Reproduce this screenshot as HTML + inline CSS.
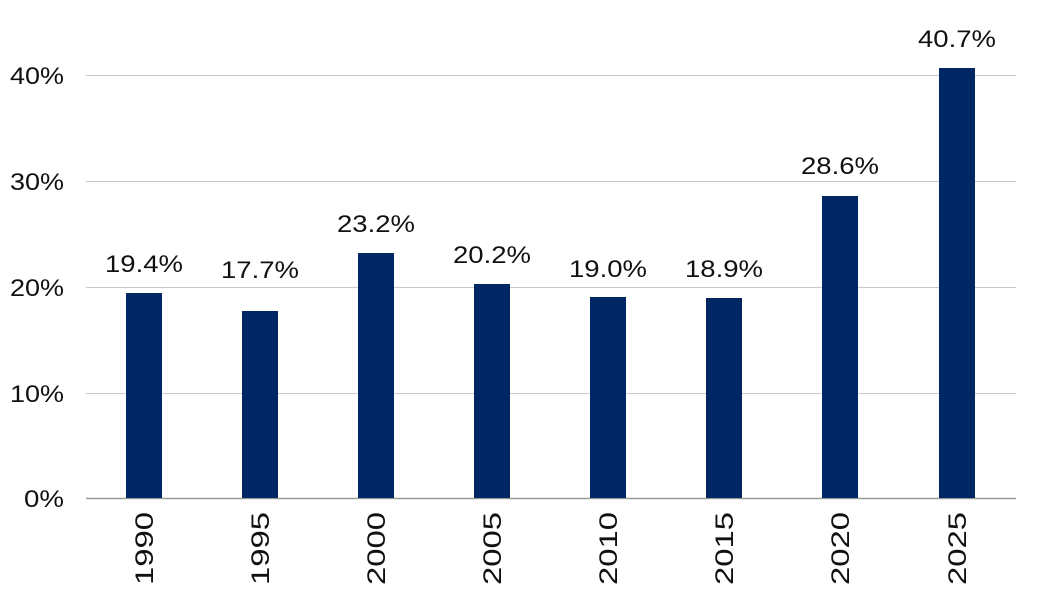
<!DOCTYPE html>
<html><head><style>
body{margin:0;background:#fff;}
svg text{font-family:"Liberation Sans",sans-serif;fill:#111;}
</style></head><body>
<svg width="1040" height="602" xmlns="http://www.w3.org/2000/svg">
<g stroke="#c8c8c8" stroke-width="1">
<line x1="86" x2="1016" y1="75.5" y2="75.5"/>
<line x1="86" x2="1016" y1="181.5" y2="181.5"/>
<line x1="86" x2="1016" y1="287.5" y2="287.5"/>
<line x1="86" x2="1016" y1="393.5" y2="393.5"/>
</g>
<line x1="86" x2="1016" y1="498.5" y2="498.5" stroke="#999" stroke-width="1.5"/>
<g font-size="24" text-anchor="end">
<text x="64" y="84" textLength="54" lengthAdjust="spacingAndGlyphs">40%</text>
<text x="64" y="190" textLength="54" lengthAdjust="spacingAndGlyphs">30%</text>
<text x="64" y="296" textLength="54" lengthAdjust="spacingAndGlyphs">20%</text>
<text x="64" y="402" textLength="54" lengthAdjust="spacingAndGlyphs">10%</text>
<text x="64" y="507" textLength="40" lengthAdjust="spacingAndGlyphs">0%</text>
</g>
<g fill="#002663">
<rect x="126" y="293" width="36" height="205"/>
<rect x="242" y="311" width="36" height="187"/>
<rect x="358" y="253" width="36" height="245"/>
<rect x="474" y="284" width="36" height="214"/>
<rect x="590" y="297" width="36" height="201"/>
<rect x="706" y="298" width="36" height="200"/>
<rect x="822" y="196" width="36" height="302"/>
<rect x="939" y="68" width="36" height="430"/>
</g>
<g font-size="24" text-anchor="middle">
<text x="144" y="272" textLength="78" lengthAdjust="spacingAndGlyphs">19.4%</text>
<text x="260" y="278" textLength="78" lengthAdjust="spacingAndGlyphs">17.7%</text>
<text x="376" y="232" textLength="78" lengthAdjust="spacingAndGlyphs">23.2%</text>
<text x="492" y="263" textLength="78" lengthAdjust="spacingAndGlyphs">20.2%</text>
<text x="608" y="277" textLength="78" lengthAdjust="spacingAndGlyphs">19.0%</text>
<text x="724" y="277" textLength="78" lengthAdjust="spacingAndGlyphs">18.9%</text>
<text x="840" y="174" textLength="78" lengthAdjust="spacingAndGlyphs">28.6%</text>
<text x="957" y="47" textLength="78" lengthAdjust="spacingAndGlyphs">40.7%</text>
</g>
<g font-size="25" text-anchor="end">
<text transform="translate(153,512) rotate(-90)" textLength="73" lengthAdjust="spacingAndGlyphs">1990</text>
<text transform="translate(269,512) rotate(-90)" textLength="73" lengthAdjust="spacingAndGlyphs">1995</text>
<text transform="translate(385,512) rotate(-90)" textLength="73" lengthAdjust="spacingAndGlyphs">2000</text>
<text transform="translate(501,512) rotate(-90)" textLength="73" lengthAdjust="spacingAndGlyphs">2005</text>
<text transform="translate(617,512) rotate(-90)" textLength="73" lengthAdjust="spacingAndGlyphs">2010</text>
<text transform="translate(733,512) rotate(-90)" textLength="73" lengthAdjust="spacingAndGlyphs">2015</text>
<text transform="translate(849,512) rotate(-90)" textLength="73" lengthAdjust="spacingAndGlyphs">2020</text>
<text transform="translate(966,512) rotate(-90)" textLength="73" lengthAdjust="spacingAndGlyphs">2025</text>
</g>
</svg>
</body></html>
